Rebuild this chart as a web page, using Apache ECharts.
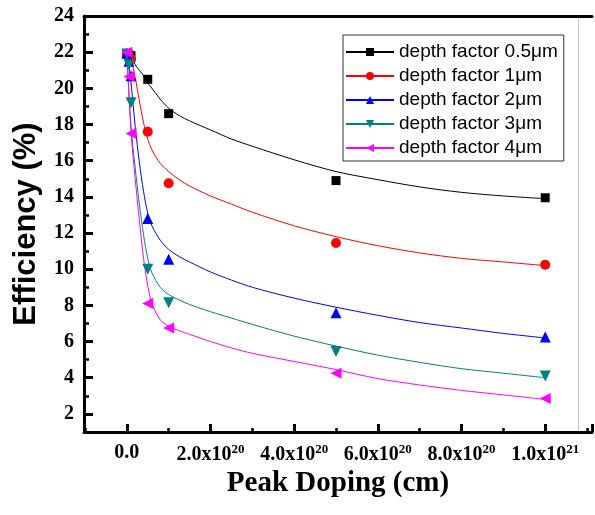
<!DOCTYPE html>
<html>
<head>
<meta charset="utf-8">
<script src="https://cdn.jsdelivr.net/npm/echarts@6/dist/echarts.min.js"></script>
<style>
  html, body { margin: 0; padding: 0; background: #fff; }
  #chart { width: 595px; height: 515px; }
</style>
</head>
<body>
<div id="chart"></div>
<script>
// peak doping, in units of 1e20 cm
var dopingX = [0.001, 0.05, 0.1, 0.5, 1, 5, 10];

// measured efficiency (%)
var eff05 = [21.9, 21.85, 21.8, 20.5, 18.6, 14.9, 13.95];
var eff1 = [21.9, 21.8, 21.6, 17.6, 14.75, 11.45, 10.25];
var eff2 = [21.95, 21.5, 20.7, 12.8, 10.55, 7.6, 6.25];
var eff3 = [21.9, 21.3, 19.2, 10.0, 8.15, 5.45, 4.1];
var eff4 = [22.0, 20.65, 17.5, 8.1, 6.75, 4.25, 2.85];

// fitted curves
var fitX = [0, 0.1, 0.2, 0.3, 0.4, 0.5, 0.6, 0.8, 1.0, 1.25, 1.5, 2, 2.5, 3, 4, 5, 6, 7, 8, 9, 10];
var fit05 = [22.0, 21.7, 21.3, 21.0, 20.7, 20.3, 20.0, 19.4, 18.9, 18.5, 18.2, 17.7, 17.2, 16.8, 16.05, 15.4, 14.95, 14.55, 14.25, 14.05, 13.9];
var fit1 = [22.0, 21.6, 20.6, 19.3, 18.1, 17.2, 16.6, 15.85, 15.4, 14.95, 14.6, 14.05, 13.6, 13.15, 12.4, 11.8, 11.3, 10.9, 10.6, 10.4, 10.2];
var fit2 = [22.0, 20.3, 17.9, 15.9, 14.3, 13.1, 12.4, 11.6, 11.1, 10.7, 10.4, 9.85, 9.4, 9.0, 8.4, 7.9, 7.45, 7.05, 6.75, 6.45, 6.2];
var fit3 = [22.0, 17.9, 15.6, 13.6, 11.9, 10.6, 9.8, 9.0, 8.6, 8.3, 8.05, 7.65, 7.3, 6.95, 6.3, 5.75, 5.25, 4.85, 4.5, 4.25, 4.0];
var fit4 = [22.0, 17.6, 15.0, 12.7, 10.6, 9.1, 8.1, 7.2, 6.85, 6.6, 6.4, 6.0, 5.65, 5.35, 4.9, 4.45, 3.95, 3.6, 3.3, 3.05, 2.8];

var seriesNames = ['depth factor 0.5μm', 'depth factor 1μm', 'depth factor 2μm', 'depth factor 3μm', 'depth factor 4μm'];
var seriesColors = ['#000000', '#ff0000', '#0000ff', '#008080', '#ff00ff'];
var symbols = ['rect', 'circle', 'triangle', 'triangle', 'triangle'];
var symbolRotates = [0, 0, 0, 180, 90];
var symbolSizes = [9, 10, 11, 11, 11];

var pointSets = [eff05, eff1, eff2, eff3, eff4];
var fitSets = [fit05, fit1, fit2, fit3, fit4];

var X_MIN = -1.0235, X_MAX = 11.118;
var Y_MIN = 1, Y_MAX = 24;

function zip(xs, ys) {
  return xs.map(function (x, i) { return [x, ys[i]]; });
}

var serif = 'Liberation Serif';
var series = [];
// curves first, so the legend takes its line + symbol from them
fitSets.forEach(function (ys, i) {
  series.push({
    type: 'line',
    name: seriesNames[i],
    data: zip(fitX, ys),
    smooth: 0.3,
    showSymbol: false,
    symbol: symbols[i],
    symbolRotate: symbolRotates[i],
    lineStyle: { width: 1, color: seriesColors[i] },
    itemStyle: { color: seriesColors[i] },
    z: 2
  });
});
pointSets.forEach(function (ys, i) {
  series.push({
    type: 'scatter',
    name: seriesNames[i],
    data: zip(dopingX, ys),
    symbol: symbols[i],
    symbolSize: symbolSizes[i],
    symbolRotate: symbolRotates[i],
    itemStyle: { color: seriesColors[i], opacity: 1 },
    z: 3
  });
});

var noSplit = { show: false };

var option = {
  animation: false,
  backgroundColor: '#fff',
  grid: { left: 84, top: 16, right: -5, bottom: 83 },
  legend: {
    data: seriesNames,
    orient: 'vertical',
    left: 343,
    top: 35,
    padding: [7, 6, 3, 2],
    itemWidth: 48,
    itemHeight: 10,
    itemGap: 4,
    backgroundColor: '#fff',
    borderColor: '#333',
    borderWidth: 1,
    textStyle: { fontFamily: 'Liberation Sans', fontSize: 19, color: '#000', lineHeight: 20 }
  },
  xAxis: [
    {
      type: 'value', min: X_MIN, max: X_MAX, splitNumber: 6, minInterval: 2, maxInterval: 2,
      position: 'bottom',
      name: 'Peak Doping (cm)', nameLocation: 'middle', nameGap: 37,
      nameTextStyle: { fontFamily: serif, fontWeight: 'bold', fontSize: 29, color: '#000' },
      axisLine: { onZero: false, lineStyle: { color: '#000', width: 3 } },
      axisTick: { inside: true, length: 8, lineStyle: { color: '#000', width: 3 } },
      splitLine: noSplit,
      axisLabel: {
        margin: 11,
        formatter: function (v) {
          if (Math.abs(v) < 1e-9) return '{n|0.0}';
          if (Math.abs(v / 2 - Math.round(v / 2)) > 1e-9) return '';
          var full = v * 1e20;
          var e = Math.floor(Math.log10(full) + 1e-9);
          var m = full / Math.pow(10, e);
          return '{n|' + m.toFixed(1) + 'x10}{s|' + e + '}';
        },
        rich: {
          n: { fontFamily: serif, fontWeight: 'bold', fontSize: 20, color: '#000' },
          s: { fontFamily: serif, fontWeight: 'bold', fontSize: 13, color: '#000', padding: [0, 0, 10, 0] }
        }
      }
    },
    {
      // minor ticks every 1e20
      type: 'value', min: X_MIN, max: X_MAX, splitNumber: 12, minInterval: 1, maxInterval: 1,
      position: 'bottom',
      axisLine: { show: false, onZero: false },
      axisTick: { inside: true, length: 4, lineStyle: { color: '#000', width: 2.5 } },
      axisLabel: { show: false },
      splitLine: noSplit
    },
    {
      // top frame
      type: 'value', min: X_MIN, max: X_MAX, position: 'top',
      axisLine: { onZero: false, lineStyle: { color: '#000', width: 3 } },
      axisTick: { show: false }, axisLabel: { show: false }, splitLine: noSplit
    }
  ],
  yAxis: [
    {
      type: 'value', min: Y_MIN, max: Y_MAX, splitNumber: 12, minInterval: 2, maxInterval: 2,
      position: 'left',
      name: 'Efficiency (%)', nameLocation: 'middle', nameGap: 42,
      nameTextStyle: { fontFamily: 'Liberation Sans', fontWeight: 'bold', fontSize: 31, color: '#000' },
      axisLine: { onZero: false, lineStyle: { color: '#000', width: 3 } },
      axisTick: { inside: true, length: 9, lineStyle: { color: '#000', width: 3 } },
      splitLine: noSplit,
      axisLabel: {
        margin: 10, fontFamily: serif, fontWeight: 'bold', fontSize: 20, color: '#000',
        formatter: function (v) { return (v % 2 === 0) ? String(v) : ''; }
      }
    },
    {
      // minor ticks every 1 %
      type: 'value', min: Y_MIN, max: Y_MAX, splitNumber: 23, minInterval: 1, maxInterval: 1,
      position: 'left',
      axisLine: { show: false, onZero: false },
      axisTick: { inside: true, length: 5, lineStyle: { color: '#000', width: 2.5 } },
      axisLabel: { show: false },
      splitLine: noSplit
    },
    {
      // faint right frame
      type: 'value', min: Y_MIN, max: Y_MAX, position: 'right', offset: -14,
      axisLine: { onZero: false, lineStyle: { color: '#c8c8c8', width: 1 } },
      axisTick: { show: false }, axisLabel: { show: false }, splitLine: noSplit
    }
  ],
  series: series
};

var myChart = echarts.init(document.getElementById('chart'));
myChart.setOption(option, true);
</script>
</body>
</html>
